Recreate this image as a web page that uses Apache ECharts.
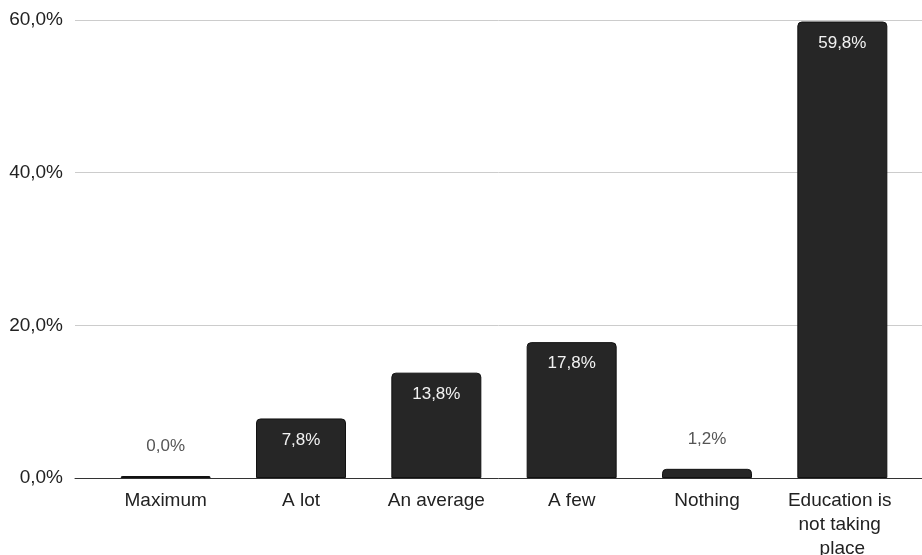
<!DOCTYPE html>
<html>
<head>
<meta charset="utf-8">
<script src="https://cdn.jsdelivr.net/npm/echarts@6/dist/echarts.min.js"></script>
<style>
  html, body { margin: 0; padding: 0; background: #fff; }
  #chart { width: 922px; height: 555px; }
</style>
</head>
<body>
<div id="chart"></div>
<script>
// Share of answers per category (percent)
const categories = ['Maximum', 'A lot', 'An average', 'A few', 'Nothing', 'Education is not taking place'];
const shares = [0.0, 7.8, 13.8, 17.8, 1.2, 59.8];
const yTicks = [0, 20, 40, 60];

const fmtPct = v => v.toFixed(1).replace('.', ',') + '%';
const FONT = '"Liberation Sans", Arial, Helvetica, sans-serif';

// Short bars carry their label above; taller ones inside the top.
const barData = shares.map(v => ({
  value: v,
  label: v < 5
    ? { position: 'top', distance: 21, color: '#555555' }
    : { position: 'insideTop', distance: 13, color: '#f2f2f2' }
}));

const chart = echarts.init(document.getElementById('chart'));
chart.setOption({
  backgroundColor: '#ffffff',
  animation: false,
  grid: [
    { left: 75, right: 0, top: 20, bottom: 77, containLabel: false, outerBoundsMode: 'none' },
    { left: 98, right: 12, top: 20, bottom: 77, containLabel: false, outerBoundsMode: 'none' }
  ],
  xAxis: [
    {
      gridIndex: 0, type: 'value', min: 0, max: 1,
      axisLine: { show: true, onZero: false, lineStyle: { color: '#333333', width: 1 } },
      axisTick: { show: false }, axisLabel: { show: false }, splitLine: { show: false }
    },
    {
      gridIndex: 1, type: 'category', data: categories,
      axisLine: { show: false }, axisTick: { show: false },
      axisLabel: {
        interval: 0, margin: 11, color: '#222222', fontFamily: FONT, fontSize: 19,
        lineHeight: 24, width: 118, overflow: 'break'
      }
    }
  ],
  yAxis: [
    {
      gridIndex: 0, type: 'value', min: yTicks[0], max: yTicks[yTicks.length - 1], interval: 20,
      axisLine: { show: false }, axisTick: { show: false },
      axisLabel: { margin: 12, color: '#222222', fontFamily: FONT, fontSize: 19, formatter: v => fmtPct(v) },
      splitLine: { show: true, lineStyle: { color: '#cccccc', width: 1 } }
    },
    {
      gridIndex: 1, type: 'value', min: yTicks[0], max: yTicks[yTicks.length - 1], interval: 20,
      show: false, splitLine: { show: false }
    }
  ],
  series: [
    {
      type: 'bar', xAxisIndex: 1, yAxisIndex: 1,
      data: barData,
      barWidth: 90,
      barMinHeight: 2,
      itemStyle: { color: '#262626', borderColor: '#111111', borderWidth: 1, borderRadius: [4, 4, 0, 0] },
      label: {
        show: true, fontFamily: FONT, fontSize: 17,
        formatter: p => fmtPct(p.value)
      }
    }
  ]
});
</script>
</body>
</html>
